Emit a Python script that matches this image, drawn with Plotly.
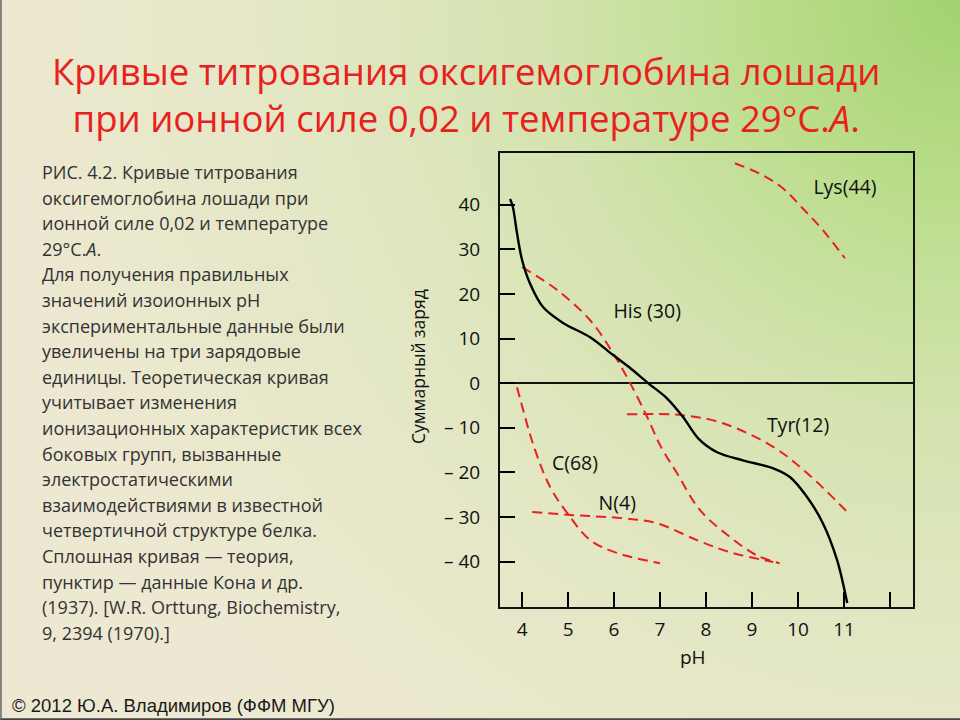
import zlib, struct, base64, math
import plotly.graph_objects as go

# ---------------- data ----------------
ph_theory = [3.74, 3.80, 3.89, 4.0, 4.17, 4.46, 4.89, 5.48, 5.98, 6.35, 6.74, 7.15, 7.5, 7.84,
             8.24, 8.8, 9.46, 9.83, 10.2, 10.54, 10.85, 11.07]
charge_theory = [41.3, 39.5, 33.6, 27.6, 22.4, 17.0, 13.5, 10.3, 6.3, 3.4, 0, -3.4, -7.6, -12.5,
                 -15.5, -17.3, -19.1, -21.1, -25.6, -31.4, -39.7, -49.3]

ph_lys = [8.63, 9.24, 9.67, 10.1, 10.54, 11.02]
charge_lys = [49.3, 46.6, 43.7, 39.2, 34.3, 28.0]

ph_his = [4.0, 4.76, 5.48, 5.98, 6.35, 6.72, 7.02, 7.37, 7.87, 8.52, 9.1, 9.6]
charge_his = [26.0, 20.9, 14.1, 6.7, 0, -7.6, -14.3, -20.2, -28.5, -34.5, -38.6, -40.4]

ph_tyr = [6.28, 7.5, 8.37, 9.46, 10.2, 11.09]
charge_tyr = [-7.0, -7.2, -9.0, -14.3, -20.2, -29.1]

ph_c = [3.89, 4.26, 4.61, 4.98, 5.48, 6.07, 7.0]
charge_c = [-0.9, -14.3, -23.3, -29.1, -35.2, -38.1, -40.4]

ph_n = [4.22, 5.11, 6.2, 6.93, 7.8, 8.52, 9.46]
charge_n = [-28.9, -29.6, -30.3, -31.4, -35.2, -37.9, -40.1]

curve_labels = ["Lys(44)", "His (30)", "Tyr(12)", "C(68)", "N(4)"]
label_ph = [11.02, 6.72, 10.0, 5.15, 6.07]
label_charge = [43.5, 15.7, -9.9, -18.4, -27.4]

x_ticks = [4, 5, 6, 7, 8, 9, 10, 11, 12]
x_ticktext = ["4", "5", "6", "7", "8", "9", "10", "11", ""]
y_ticks = [40, 30, 20, 10, 0, -10, -20, -30, -40]
y_ticktext = ["40", "30", "20", "10", "0", "– 10", "– 20", "– 30", "– 40"]

title_lines = ["Кривые титрования оксигемоглобина лошади",
               "при ионной силе 0,02 и температуре 29°С.<i>А</i>."]
caption_lines = [
    "РИС. 4.2. Кривые титрования",
    "оксигемоглобина лошади при",
    "ионной силе 0,02 и температуре",
    "29°С.<i>А</i>.",
    "Для получения правильных",
    "значений изоионных рН",
    "экспериментальные данные были",
    "увеличены на три зарядовые",
    "единицы. Теоретическая кривая",
    "учитывает изменения",
    "ионизационных характеристик всех",
    "боковых групп, вызванные",
    "электростатическими",
    "взаимодействиями в известной",
    "четвертичной структуре белка.",
    "Сплошная кривая — теория,",
    "пунктир — данные Кона и др.",
    "(1937). [W.R. Orttung, Biochemistry,",
    "9, 2394 (1970).]",
]
footer = "© 2012 Ю.А. Владимиров (ФФМ МГУ)"

# ---------------- background gradient (PNG data URI) ----------------
W, H = 192, 144
stops = [(0.0, (162, 211, 112)), (0.2, (186, 221, 138)), (0.42, (211, 227, 174)),
         (0.68, (227, 231, 196)), (1.0, (237, 232, 209))]

def col(t):
    for (t0, c0), (t1, c1) in zip(stops[:-1], stops[1:]):
        if t <= t1:
            f = (t - t0) / (t1 - t0)
            return tuple(int(round(a + (b - a) * f)) for a, b in zip(c0, c1))
    return stops[-1][1]

rows = b""
for j in range(H):
    row = b"\x00"
    for i in range(W):
        px = (i + 0.5) * 960 / W
        py = (j + 0.5) * 720 / H
        d = math.hypot(960 - px, py) / 960.0
        row += bytes(col(min(d, 1.0)))
    rows += row

def chunk(tag, data):
    c = struct.pack(">I", len(data)) + tag + data
    return c + struct.pack(">I", zlib.crc32(tag + data) & 0xffffffff)

png = b"\x89PNG\r\n\x1a\n" + chunk(b"IHDR", struct.pack(">IIBBBBB", W, H, 8, 2, 0, 0, 0)) \
      + chunk(b"IDAT", zlib.compress(rows, 9)) + chunk(b"IEND", b"")
bg_uri = "data:image/png;base64," + base64.b64encode(png).decode()

# ---------------- figure ----------------
FONT = "Open Sans"
RED = "#e8201e"
fig = go.Figure()

dash = "10px,6px"
for xs, ys in [(ph_lys, charge_lys), (ph_his, charge_his), (ph_tyr, charge_tyr),
               (ph_c, charge_c), (ph_n, charge_n)]:
    fig.add_trace(go.Scatter(x=xs, y=ys, mode="lines",
                             line=dict(color=RED, width=2, dash=dash, shape="spline", smoothing=1.0),
                             hoverinfo="skip", showlegend=False))

fig.add_trace(go.Scatter(x=ph_theory, y=charge_theory, mode="lines",
                         line=dict(color="black", width=2.4, shape="spline", smoothing=0.9),
                         hoverinfo="skip", showlegend=False))

fig.add_trace(go.Scatter(x=label_ph, y=label_charge, mode="text", text=curve_labels,
                         textfont=dict(family=FONT, size=19.5, color="#111"),
                         hoverinfo="skip", showlegend=False))

x0p, x1p, y0p, y1p = 500, 913, 153, 607
fig.update_layout(
    width=960, height=720,
    margin=dict(l=0, r=0, t=0, b=0),
    paper_bgcolor="#ece8d0",
    plot_bgcolor="rgba(0,0,0,0)",
    images=[dict(source=bg_uri, xref="paper", yref="paper", x=0, y=1, sizex=1, sizey=1,
                 sizing="stretch", layer="below")],
    xaxis=dict(domain=[x0p / 960, x1p / 960], range=[3.52, 12.5],
               tickvals=x_ticks, ticktext=x_ticktext, ticks="inside", ticklen=15,
               tickwidth=1.5, tickcolor="black", showgrid=False, zeroline=False,
               showline=True, mirror=True, linecolor="#111", linewidth=2,
               tickfont=dict(family=FONT, size=19, color="#111"), ticklabelstandoff=4),
    yaxis=dict(domain=[(720 - y1p) / 720, (720 - y0p) / 720], range=[-50.2, 51.6],
               tickvals=y_ticks, ticktext=y_ticktext, ticks="inside", ticklen=15,
               tickwidth=1.5, tickcolor="black", showgrid=False,
               zeroline=True, zerolinecolor="#111", zerolinewidth=1.5,
               showline=True, mirror=True, linecolor="#111", linewidth=2,
               tickfont=dict(family=FONT, size=19, color="#111"), ticklabelstandoff=14),
)

ann = []
ann.append(dict(text="pH", x=693 / 960, y=1 - 657 / 720, xref="paper", yref="paper",
                xanchor="center", yanchor="middle",
                showarrow=False, font=dict(family=FONT, size=19, color="#111")))
ann.append(dict(text="Суммарный заряд", x=418 / 960, y=1 - 367 / 720, xref="paper", yref="paper",
                xanchor="center", yanchor="middle",
                textangle=-90, showarrow=False, font=dict(family=FONT, size=17.5, color="#111")))
ann.append(dict(text="<br>".join(title_lines), x=466 / 960, y=1 - 94.5 / 720,
                xref="paper", yref="paper", showarrow=False, xanchor="center", yanchor="middle",
                align="center", font=dict(family=FONT, size=36.5, color=RED)))
for i, t in enumerate(caption_lines):
    yy = 172 + i * 25.6
    ann.append(dict(text=t, x=40 / 960, y=1 - yy / 720, xref="paper", yref="paper",
                    showarrow=False, xanchor="left", yanchor="middle",
                    font=dict(family=FONT, size=18, color="#333")))
ann.append(dict(text=footer, x=10 / 960, y=1 - 705 / 720, xref="paper", yref="paper",
                showarrow=False, xanchor="left", yanchor="middle",
                font=dict(family="Liberation Sans", size=18.5, color="#1a1a1a")))
fig.update_layout(annotations=ann)

fig.add_shape(type="line", xref="paper", yref="paper", x0=0, x1=1, y0=0.001, y1=0.001,
              line=dict(color="#444", width=2))
fig.add_shape(type="line", xref="paper", yref="paper", x0=0.001, x1=0.001, y0=0, y1=1,
              line=dict(color="#666", width=1.5))

fig.write_html("out.html", config={"displayModeBar": False},
               post_script="document.body.style.margin='0';")
